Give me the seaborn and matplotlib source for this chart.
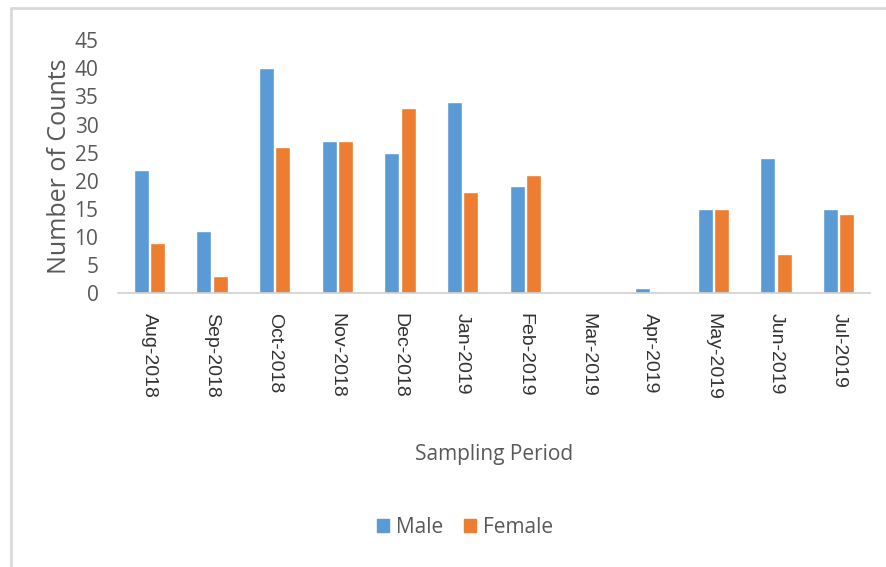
import numpy as np
import pandas as pd
import seaborn as sns
import matplotlib.pyplot as plt
from matplotlib.lines import Line2D

months = ["Aug-2018", "Sep-2018", "Oct-2018", "Nov-2018", "Dec-2018", "Jan-2019",
          "Feb-2019", "Mar-2019", "Apr-2019", "May-2019", "Jun-2019", "Jul-2019"]
male = [22, 11, 40, 27, 25, 34, 19, 0, 1, 15, 24, 15]
female = [9, 3, 26, 27, 33, 18, 21, 0, 0, 15, 7, 14]

df = pd.DataFrame({"Month": months * 2,
                   "Count": male + female,
                   "Sex": ["Male"] * len(months) + ["Female"] * len(months)})

sns.set_style("white")
plt.rcParams['font.family'] = ['Open Sans', 'DejaVu Sans']
grey = "#595959"

fig = plt.figure(figsize=(8.86, 5.67), dpi=100)
ax = fig.add_axes([0.133, 0.483, 0.849, 0.446])

sns.barplot(data=df, x="Month", y="Count", hue="Sex",
            palette={"Male": "#5B9BD5", "Female": "#ED7D31"}, saturation=1,
            width=0.52, gap=0.08, ax=ax, legend=False)

ax.set_ylim(0, 45)
ax.set_yticks(np.arange(0, 46, 5))
ax.set_xlim(-0.5, len(months) - 0.5)
for s in ["top", "right", "left"]:
    ax.spines[s].set_visible(False)
ax.spines["bottom"].set_color("#d0d0d0")
ax.spines["bottom"].set_linewidth(1.2)
ax.tick_params(axis="y", length=0, labelsize=15, labelcolor=grey, pad=14)
ax.tick_params(axis="x", length=0, pad=14)
ax.set_xticks(range(len(months)))
ax.set_xticklabels(months, rotation=-90, fontsize=14, color="#333333",
                   family=["Liberation Sans", "DejaVu Sans"])

ax.set_xlabel("Sampling Period", fontsize=15, color=grey, labelpad=32)
ax.set_ylabel("Number of Counts", fontsize=18, color=grey, labelpad=2)

handles = [plt.Rectangle((0, 0), 1, 1, color="#5B9BD5"),
           plt.Rectangle((0, 0), 1, 1, color="#ED7D31")]
fig.legend(handles, ["Male", "Female"], loc="center", bbox_to_anchor=(0.525, 0.07),
           ncol=2, frameon=False, fontsize=15, labelcolor=grey,
           handlelength=0.55, handleheight=0.55, handletextpad=0.35, columnspacing=1.0)

# chart frame (left and top edges)
fig.add_artist(Line2D([11 / 886, 11 / 886], [0, 1 - 8 / 567], color="#d9d9d9", lw=2,
                      transform=fig.transFigure))
fig.add_artist(Line2D([11 / 886, 1], [1 - 8 / 567, 1 - 8 / 567], color="#d9d9d9", lw=2,
                      transform=fig.transFigure))

fig.savefig("out.png", dpi=100)
